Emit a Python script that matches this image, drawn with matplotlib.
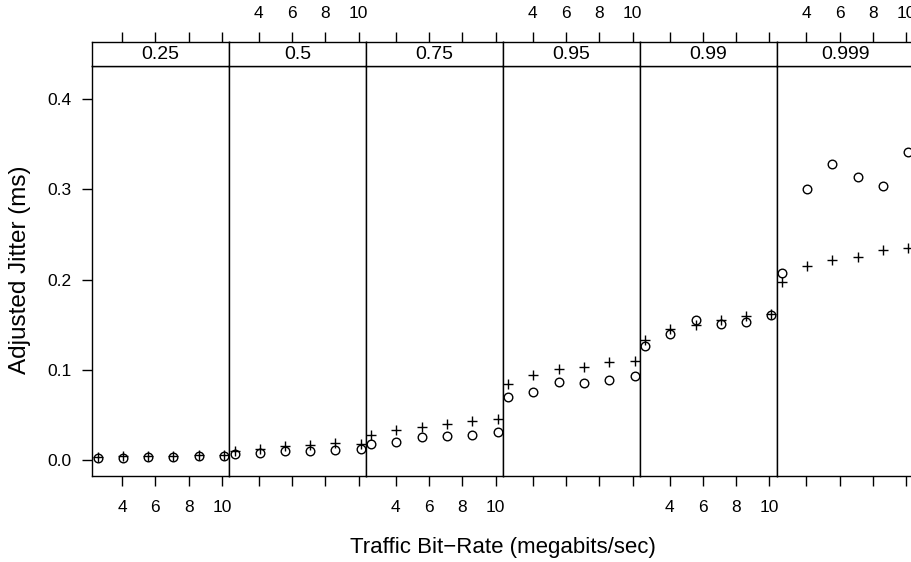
import matplotlib
matplotlib.use('Agg')
import matplotlib.pyplot as plt

plt.rcParams['font.family'] = ['Liberation Sans', 'DejaVu Sans']

# data
quantiles = ['0.25', '0.5', '0.75', '0.95', '0.99', '0.999']
bit_rate = [2.54, 4.04, 5.56, 7.08, 8.60, 10.12]
jitter_circle = [
    [0.003, 0.003, 0.004, 0.004, 0.005, 0.005],
    [0.007, 0.008, 0.010, 0.011, 0.012, 0.013],
    [0.018, 0.020, 0.026, 0.027, 0.028, 0.032],
    [0.070, 0.076, 0.087, 0.086, 0.089, 0.094],
    [0.127, 0.140, 0.156, 0.151, 0.153, 0.161],
    [0.207, 0.301, 0.328, 0.314, 0.304, 0.341],
]
jitter_plus = [
    [0.004, 0.005, 0.005, 0.005, 0.006, 0.006],
    [0.010, 0.013, 0.016, 0.017, 0.019, 0.018],
    [0.028, 0.034, 0.037, 0.040, 0.044, 0.046],
    [0.085, 0.095, 0.101, 0.103, 0.109, 0.110],
    [0.133, 0.145, 0.150, 0.155, 0.160, 0.162],
    [0.198, 0.215, 0.222, 0.225, 0.233, 0.235],
]
xticks = [4, 6, 8, 10]
yticks = [0.0, 0.1, 0.2, 0.3, 0.4]

W, H = 911, 562
fig = plt.figure(figsize=(W / 100, H / 100), dpi=100)

left0 = 92.3
pw = 136.9
ax_top, ax_bot = 65.7, 476.0
strip_top = 41.7
xlim = (2.22, 10.44)
ylim = (-0.0172, 0.437)
fs = 12.5
lw = 1.0
tl = 7.5

for i, q in enumerate(quantiles):
    x0 = left0 + i * pw
    ax = fig.add_axes([x0 / W, 1 - ax_bot / H, pw / W, (ax_bot - ax_top) / H])
    ax.plot(bit_rate, jitter_circle[i], 'o', mfc='none', mec='black',
            ms=6.2, mew=1.0, clip_on=False)
    ax.plot(bit_rate, jitter_plus[i], '+', color='black', ms=7, mew=1.0,
            clip_on=False)
    ax.set_xlim(xlim)
    ax.set_ylim(ylim)
    for s in ax.spines.values():
        s.set_linewidth(lw)
    ax.set_xticks(xticks)
    ax.tick_params(axis='x', direction='out', length=tl, width=lw,
                   pad=10, labelsize=fs, top=False,
                   labelbottom=(i % 2 == 0))
    if i == 0:
        ax.set_yticks(yticks)
        ax.set_yticklabels(['%.1f' % v for v in yticks])
        ax.tick_params(axis='y', direction='out', length=tl, width=lw,
                       pad=7.5, labelsize=fs)
    else:
        ax.set_yticks([])

    # strip
    sx = fig.add_axes([x0 / W, 1 - ax_top / H, pw / W, (ax_top - strip_top) / H])
    sx.set_xlim(xlim)
    sx.set_yticks([])
    sx.set_xticks(xticks)
    sx.xaxis.set_ticks_position('top')
    sx.tick_params(axis='x', direction='out', length=tl, width=lw, pad=7.5,
                   labelsize=fs, labeltop=(i % 2 == 1), labelbottom=False,
                   bottom=False)
    for s in sx.spines.values():
        s.set_linewidth(lw)
    sx.text(0.5, 0.47, q, transform=sx.transAxes, ha='center', va='center',
            fontsize=14)

fig.text(20 / W, 1 - 270 / H, 'Adjusted Jitter (ms)', rotation=90,
         ha='center', va='center', fontsize=17.5)
fig.text(503 / W, 1 - 548 / H, 'Traffic Bit\u2212Rate (megabits/sec)',
         ha='center', va='center', fontsize=16)

fig.savefig('out.png', dpi=100)
